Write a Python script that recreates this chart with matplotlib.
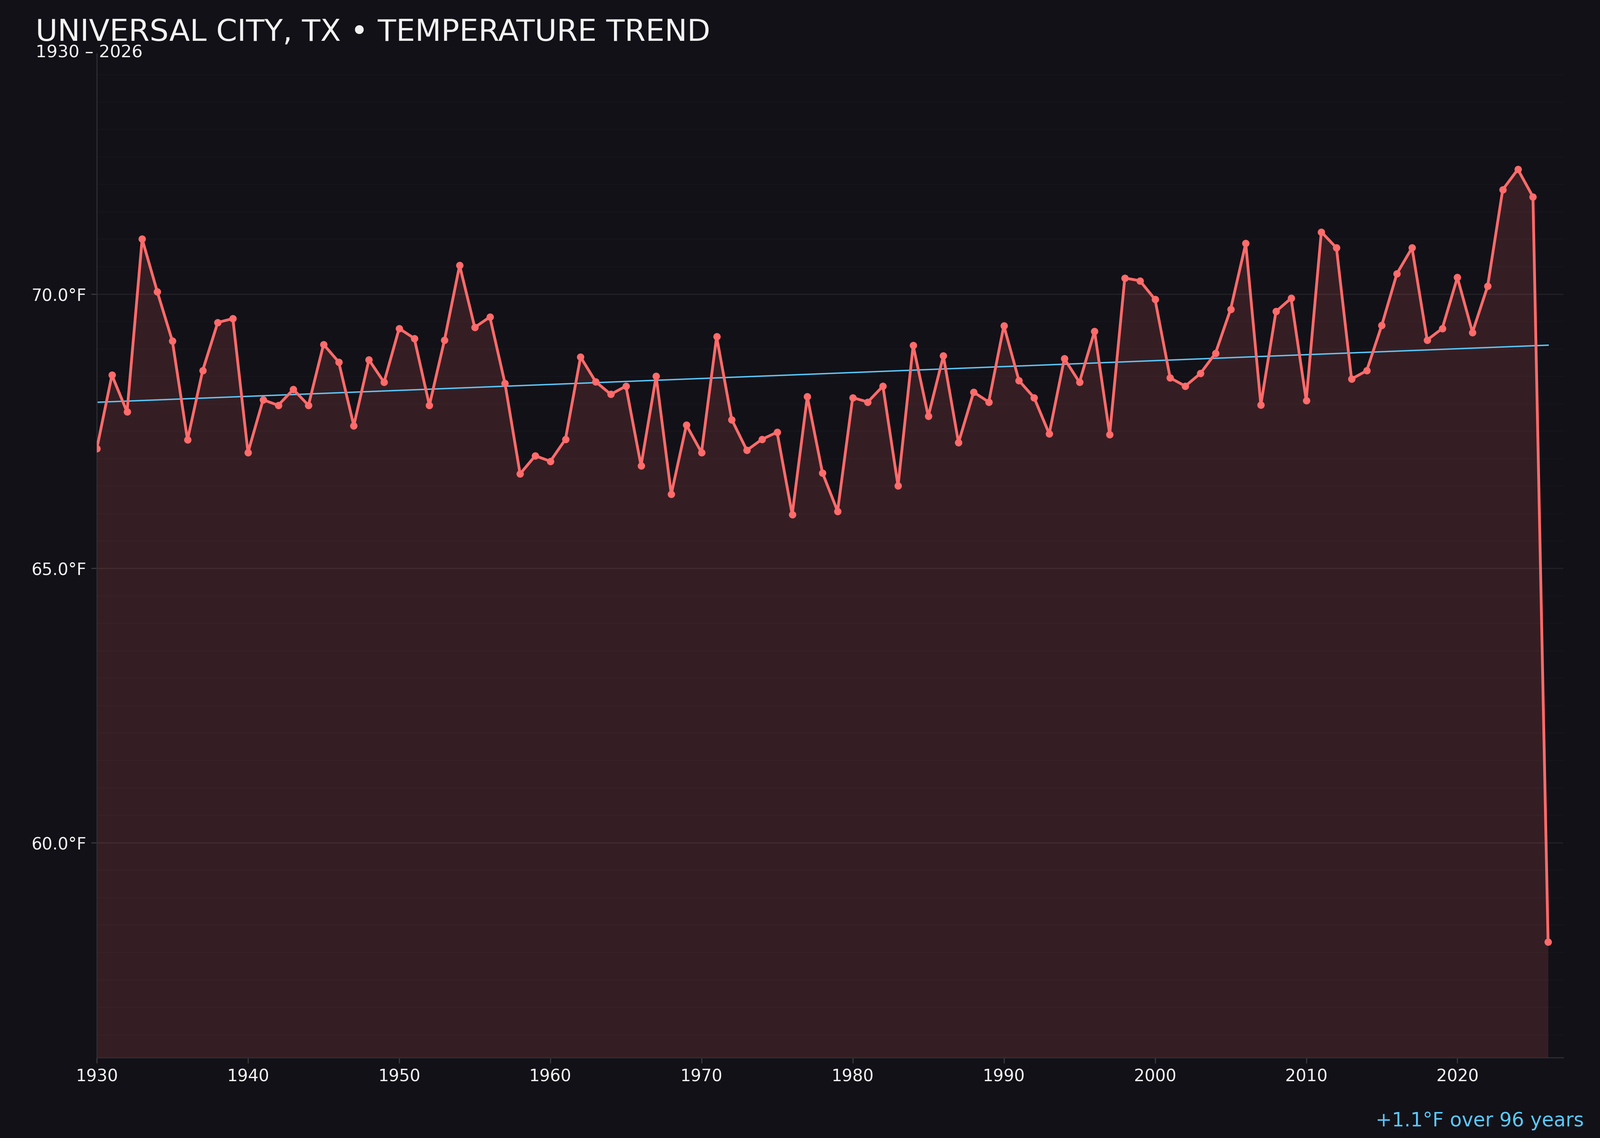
import numpy as np
import matplotlib
matplotlib.use("Agg")
import matplotlib.pyplot as plt
from matplotlib.ticker import MultipleLocator, FuncFormatter

# annual mean temperature
years = list(range(1930, 2027))
temps = [
    67.18, 68.52, 67.85, 71.00, 70.04, 69.14, 67.34, 68.60, 69.48, 69.55,  # 1930s
    67.11, 68.07, 67.97, 68.26, 67.97, 69.08, 68.76, 67.60, 68.80, 68.39,  # 1940s
    69.37, 69.19, 67.97, 69.16, 70.52, 69.39, 69.58, 68.37, 66.72, 67.05,  # 1950s
    66.95, 67.35, 68.85, 68.40, 68.17, 68.32, 66.87, 68.50, 66.35, 67.61,  # 1960s
    67.11, 69.22, 67.71, 67.15, 67.35, 67.48, 65.98, 68.13, 66.74, 66.04,  # 1970s
    68.11, 68.03, 68.32, 66.50, 69.06, 67.77, 68.87, 67.29, 68.21, 68.03,  # 1980s
    69.42, 68.42, 68.11, 67.45, 68.82, 68.39, 69.32, 67.44, 70.29, 70.24,  # 1990s
    69.90, 68.47, 68.32, 68.55, 68.92, 69.72, 70.92, 67.98, 69.68, 69.92,  # 2000s
    68.06, 71.13, 70.84, 68.45, 68.60, 69.43, 70.37, 70.84, 69.16, 69.37,  # 2010s
    70.30, 69.30, 70.14, 71.90, 72.27, 71.77, 58.19,                       # 2020s
]
x_ticks = list(range(1930, 2021, 10))
title = "UNIVERSAL CITY, TX \u2022 TEMPERATURE TREND"
subtitle = "1930 \u2013 2026"
trend_note = "+1.1\u00b0F over 96 years"

BG = "#121117"
LINE = "#ff6b6b"
TREND = "#5ac8fa"
TEXT = "#f2f2f2"

yrs = np.array(years)
t = np.array(temps)

fig = plt.figure(figsize=(16, 11.376), dpi=250, facecolor=BG)
ax = fig.add_axes([0.0605, 0.0705, 0.9165, 0.8825])
ax.set_facecolor(BG)

span = t.max() - t.min()
ymin, ymax = t.min() - 0.15 * span, t.max() + 0.15 * span
ax.set_xlim(1930, 2027)
ax.set_ylim(ymin, ymax)

# grid
ax.yaxis.set_major_locator(MultipleLocator(5))
ax.yaxis.set_minor_locator(MultipleLocator(0.5))
ax.grid(axis="y", which="major", color="#ffffff", alpha=0.07, linewidth=0.8, zorder=0)
ax.grid(axis="y", which="minor", color="#ffffff", alpha=0.018, linewidth=0.8, zorder=0)

# area + line
ax.fill_between(yrs, t, ymin, color=LINE, alpha=0.15, linewidth=0, zorder=1)
ax.plot(yrs, t, color=LINE, linewidth=2.0, marker="o", markersize=4.3, zorder=3)

# linear trend
slope, icpt = np.polyfit(yrs, t, 1)
ax.plot(yrs, slope * yrs + icpt, color=TREND, linewidth=1.0, zorder=2)

ax.set_xticks(x_ticks)
ax.yaxis.set_major_formatter(FuncFormatter(lambda v, p: f"{v:.1f}\u00b0F"))
ax.tick_params(axis="both", which="major", colors="#3a3940", labelcolor=TEXT,
               labelsize=12, length=4, width=0.8)
ax.tick_params(axis="y", which="minor", length=0)

for side in ["top", "right"]:
    ax.spines[side].set_visible(False)
for side in ["left", "bottom"]:
    ax.spines[side].set_color("#2e2d34")
    ax.spines[side].set_linewidth(0.8)

fig.text(0.0223, 0.964, title, color=TEXT, fontsize=21.7, ha="left", va="baseline")
fig.text(0.0223, 0.9495, subtitle, color=TEXT, fontsize=12.4, ha="left", va="baseline")
fig.text(0.990, 0.0102, trend_note, color=TREND, fontsize=14, ha="right", va="baseline")

fig.savefig("out.png", dpi=250, facecolor=BG)
